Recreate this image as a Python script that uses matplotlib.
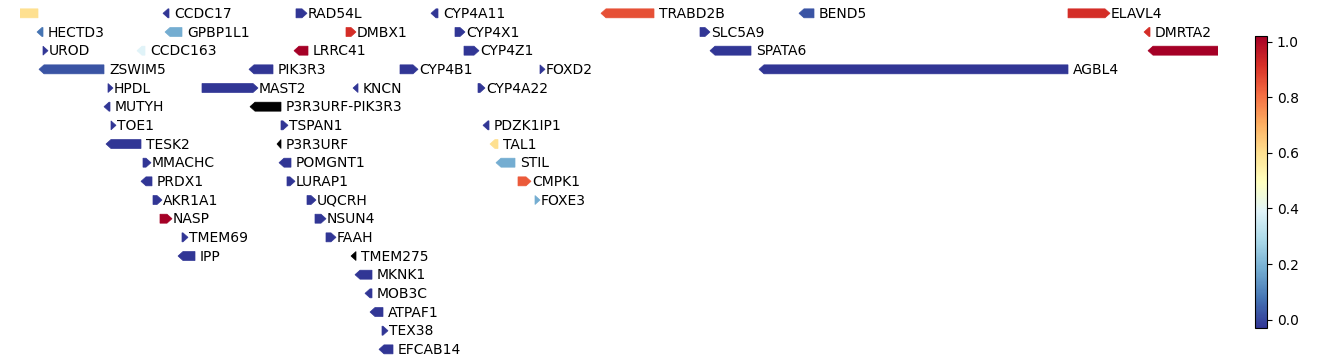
import numpy as np
import matplotlib
matplotlib.use('Agg')
import matplotlib.pyplot as plt
from matplotlib.patches import Polygon
from matplotlib.colors import Normalize

# gene track data (x positions in track units, row index, strand, score)
names = ['', 'CCDC17', 'RAD54L', 'CYP4A11', 'TRABD2B', 'BEND5', 'ELAVL4',
         'HECTD3', 'GPBP1L1', 'DMBX1', 'CYP4X1', 'SLC5A9', 'DMRTA2',
         'UROD', 'CCDC163', 'LRRC41', 'CYP4Z1', 'SPATA6', '',
         'ZSWIM5', 'PIK3R3', 'CYP4B1', 'FOXD2', 'AGBL4',
         'HPDL', 'MAST2', 'KNCN', 'CYP4A22',
         'MUTYH', 'P3R3URF-PIK3R3',
         'TOE1', 'TSPAN1', 'PDZK1IP1',
         'TESK2', 'P3R3URF', 'TAL1',
         'MMACHC', 'POMGNT1', 'STIL',
         'PRDX1', 'LURAP1', 'CMPK1',
         'AKR1A1', 'UQCRH', 'FOXE3',
         'NASP', 'NSUN4',
         'TMEM69', 'FAAH',
         'IPP', 'TMEM275',
         'MKNK1', 'MOB3C', 'ATPAF1', 'TEX38', 'EFCAB14']
starts = [10, 163, 296, 431, 601, 799, 1068,
          37, 165, 346, 455, 700, 1144,
          43, 137, 294, 464, 710, 1148,
          39, 249, 400, 540, 759,
          108, 202, 353, 478,
          104, 250,
          111, 281, 483,
          106, 277, 490,
          143, 279, 496,
          141, 287, 518,
          153, 307, 535,
          160, 315,
          182, 326,
          178, 351,
          355, 365, 370, 382, 379]
ends = [38, 169, 307, 438, 654, 814, 1110,
        43, 182, 356, 465, 710, 1150,
        48, 145, 308, 479, 751, 1250,
        104, 273, 418, 545, 1068,
        113, 258, 358, 485,
        110, 281,
        116, 288, 489,
        141, 281, 498,
        151, 291, 515,
        152, 295, 531,
        162, 316, 540,
        172, 326,
        188, 336,
        195, 356,
        372, 372, 383, 388, 393]
rows = [0, 0, 0, 0, 0, 0, 0,
        1, 1, 1, 1, 1, 1,
        2, 2, 2, 2, 2, 2,
        3, 3, 3, 3, 3,
        4, 4, 4, 4,
        5, 5,
        6, 6, 6,
        7, 7, 7,
        8, 8, 8,
        9, 9, 9,
        10, 10, 10,
        11, 11,
        12, 12,
        13, 13,
        14, 15, 16, 17, 18]
strands = [-1, -1, 1, -1, -1, -1, 1,
           -1, -1, 1, 1, 1, -1,
           1, -1, -1, 1, -1, -1,
           -1, -1, 1, 1, -1,
           1, 1, -1, 1,
           -1, -1,
           1, 1, -1,
           -1, -1, -1,
           1, -1, -1,
           -1, 1, 1,
           1, 1, 1,
           1, 1,
           1, 1,
           -1, -1,
           -1, -1, -1, 1, -1]
nan = np.nan
scores = [0.6, -0.03, -0.03, -0.03, 0.86, 0.02, 0.92,
          0.075, 0.18, 0.92, -0.03, -0.03, 0.92,
          -0.03, 0.39, 1.02, -0.03, -0.03, 1.02,
          0.02, -0.03, -0.03, -0.03, -0.03,
          -0.03, -0.03, -0.03, -0.03,
          -0.03, nan,
          -0.03, -0.03, -0.03,
          -0.03, nan, 0.6,
          -0.03, -0.03, 0.18,
          -0.03, -0.03, 0.84,
          -0.03, -0.03, 0.18,
          1.02, -0.03,
          -0.03, -0.03,
          -0.03, nan,
          -0.03, -0.03, -0.03, -0.03, -0.03]

cmap = plt.get_cmap('RdYlBu_r')
norm = Normalize(vmin=-0.03, vmax=1.02)

fig = plt.figure(figsize=(13.38, 3.64), dpi=100)
ax = fig.add_axes([20 / 1338, 1 - 358.7 / 364, 1198 / 1338, 354.7 / 364])
ax.set_xlim(20, 1218)
ax.set_ylim(18.5, -0.5)
ax.axis('off')

half = 0.24
head = 5
for name, s, e, r, st, sc in zip(names, starts, ends, rows, strands, scores):
    color = 'black' if np.isnan(sc) else cmap(norm(sc))
    hl = min(head, e - s)
    if st > 0:
        pts = [(s, r - half), (e - hl, r - half), (e, r), (e - hl, r + half), (s, r + half)]
        tx = e + 1
    else:
        pts = [(e, r - half), (s + hl, r - half), (s, r), (s + hl, r + half), (e, r + half)]
        tx = e + 5
    ax.add_patch(Polygon(pts, closed=True, facecolor=color, edgecolor=color,
                         linewidth=0.5))
    if name:
        ax.text(tx, r + 0.04, name, fontsize=10, va='center', ha='left', clip_on=True)

cax = fig.add_axes([1255 / 1338, 1 - 328 / 364, 12 / 1338, 292 / 364])
sm = plt.cm.ScalarMappable(norm=norm, cmap=cmap)
cb = fig.colorbar(sm, cax=cax)
cb.set_ticks([0.0, 0.2, 0.4, 0.6, 0.8, 1.0])
cb.ax.tick_params(labelsize=10)

fig.savefig('out.png', dpi=100)
